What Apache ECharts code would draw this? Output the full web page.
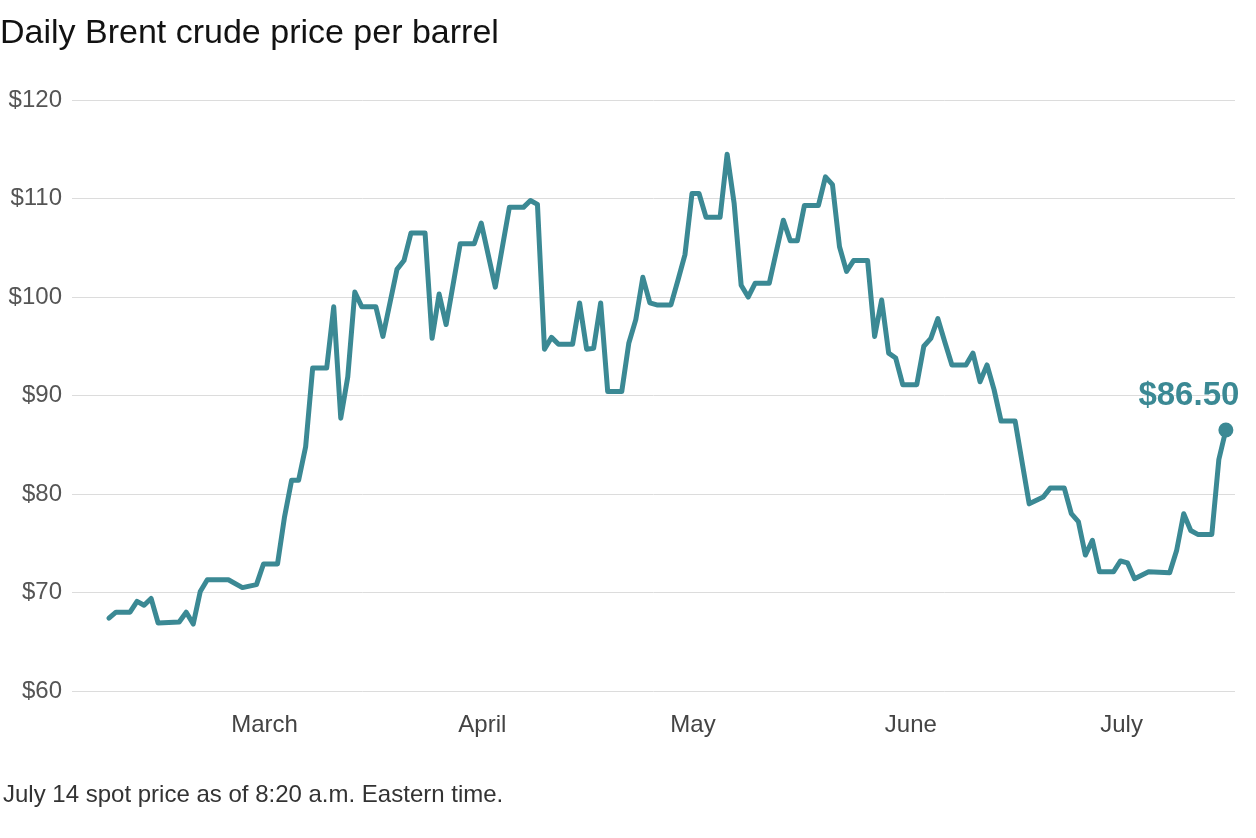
<!DOCTYPE html>
<html>
<head>
<meta charset="utf-8">
<title>Daily Brent crude price per barrel</title>
<script src="https://cdn.jsdelivr.net/npm/echarts@6/dist/echarts.min.js"></script>
<style>
  html, body { margin: 0; padding: 0; background: #fff; }
  #main { width: 1256px; height: 838px; }
</style>
</head>
<body>
<div id="main"></div>
<script>
// Brent spot, daily (weekend values carried from Friday)
const dates = [
  '2026-02-05', '2026-02-06', '2026-02-08', '2026-02-09', '2026-02-10', '2026-02-11', '2026-02-12',
  '2026-02-15', '2026-02-16', '2026-02-17', '2026-02-18', '2026-02-19', '2026-02-22', '2026-02-24',
  '2026-02-26', '2026-02-27', '2026-03-01', '2026-03-02', '2026-03-03', '2026-03-04', '2026-03-05',
  '2026-03-06', '2026-03-08', '2026-03-09', '2026-03-10', '2026-03-11', '2026-03-12', '2026-03-13',
  '2026-03-15', '2026-03-16', '2026-03-18', '2026-03-19', '2026-03-20', '2026-03-22', '2026-03-23',
  '2026-03-24', '2026-03-25', '2026-03-27', '2026-03-29', '2026-03-30', '2026-04-01', '2026-04-03',
  '2026-04-05', '2026-04-06', '2026-04-07', '2026-04-08', '2026-04-09', '2026-04-10', '2026-04-12',
  '2026-04-13', '2026-04-14', '2026-04-15', '2026-04-16', '2026-04-17', '2026-04-19', '2026-04-20',
  '2026-04-21', '2026-04-22', '2026-04-23', '2026-04-24', '2026-04-26', '2026-04-27', '2026-04-28',
  '2026-04-29', '2026-04-30', '2026-05-01', '2026-05-03', '2026-05-04', '2026-05-05', '2026-05-06',
  '2026-05-07', '2026-05-08', '2026-05-10', '2026-05-12', '2026-05-13', '2026-05-14', '2026-05-15',
  '2026-05-17', '2026-05-18', '2026-05-19', '2026-05-20', '2026-05-21', '2026-05-22', '2026-05-24',
  '2026-05-25', '2026-05-26', '2026-05-27', '2026-05-28', '2026-05-29', '2026-05-31', '2026-06-01',
  '2026-06-02', '2026-06-03', '2026-06-04', '2026-06-05', '2026-06-07', '2026-06-08', '2026-06-09',
  '2026-06-10', '2026-06-11', '2026-06-12', '2026-06-14', '2026-06-16', '2026-06-18', '2026-06-19',
  '2026-06-21', '2026-06-22', '2026-06-23', '2026-06-24', '2026-06-25', '2026-06-26', '2026-06-28',
  '2026-06-29', '2026-06-30', '2026-07-01', '2026-07-03', '2026-07-06', '2026-07-07', '2026-07-08',
  '2026-07-09', '2026-07-10', '2026-07-12', '2026-07-13', '2026-07-14'
];
const prices = [
  67.4, 68.0, 68.0, 69.1, 68.7, 69.4, 66.9,
  67.0, 68.0, 66.8, 70.1, 71.3, 71.3, 70.5,
  70.8, 72.9, 72.9, 77.7, 81.4, 81.4, 84.8,
  92.8, 92.8, 99.0, 87.7, 91.9, 100.5, 99.0,
  99.0, 96.0, 102.8, 103.7, 106.5, 106.5, 95.8,
  100.3, 97.2, 105.4, 105.4, 107.5, 101.0, 109.1,
  109.1, 109.8, 109.4, 94.7, 95.9, 95.2, 95.2,
  99.4, 94.7, 94.8, 99.4, 90.4, 90.4, 95.3,
  97.7, 102.0, 99.4, 99.2, 99.2, 101.7, 104.3,
  110.5, 110.5, 108.1, 108.1, 114.5, 109.5, 101.2,
  100.0, 101.4, 101.4, 107.8, 105.7, 105.7, 109.3,
  109.3, 112.2, 111.4, 105.1, 102.6, 103.7, 103.7,
  96.0, 99.7, 94.3, 93.8, 91.1, 91.1, 95.0,
  95.8, 97.8, 95.4, 93.1, 93.1, 94.3, 91.4,
  93.1, 90.6, 87.4, 87.4, 79.0, 79.7, 80.6,
  80.6, 78.0, 77.2, 73.8, 75.3, 72.1, 72.1,
  73.2, 73.0, 71.4, 72.1, 72.0, 74.3, 78.0,
  76.3, 75.9, 75.9, 83.5, 86.5
];
const monthLabels = ['', '', 'March', 'April', 'May', 'June', 'July'];
const yMin = 60, yMax = 120, yStep = 10;

const DAY = 864e5;
const toTime = s => Date.parse(s + 'T00:00:00Z');
const points = dates.map((d, i) => [toTime(d), prices[i]]);
const last = points[points.length - 1];
const t0 = points[0][0];
const teal = '#3b8994';

const chart = echarts.init(document.getElementById('main'));
chart.setOption({
  animation: false,
  useUTC: true,
  textStyle: { fontFamily: 'Liberation Sans, Arial, sans-serif' },
  title: [
    {
      text: 'Daily Brent crude price per barrel',
      left: 0, top: 17, padding: 0,
      textStyle: { fontSize: 34, fontWeight: 'normal', color: '#121212' }
    },
    {
      text: 'July 14 spot price as of 8:20 a.m. Eastern time.',
      left: 3, top: 783, padding: 0,
      textStyle: { fontSize: 24, fontWeight: 'normal', color: '#333' }
    }
  ],
  grid: { left: 72, right: 21, top: 100, bottom: 147 },
  xAxis: {
    type: 'time',
    min: t0 - 5.26 * DAY,
    max: t0 + 160.3 * DAY,
    axisLine: { show: false },
    axisTick: { show: false },
    splitLine: { show: false },
    axisLabel: {
      margin: 22,
      fontSize: 24,
      color: '#444',
      padding: [0, 26, 0, 0],
      formatter: function (v) {
        const d = new Date(v);
        if (d.getUTCDate() !== 1 || d.getUTCHours() !== 0) return '';
        return monthLabels[d.getUTCMonth()] || '';
      }
    }
  },
  yAxis: {
    type: 'value',
    min: yMin, max: yMax, interval: yStep,
    axisLine: { show: false },
    axisTick: { show: false },
    splitLine: { lineStyle: { color: '#dcdcdc', width: 1 } },
    axisLabel: { margin: 10, fontSize: 24, color: '#555', formatter: '${value}' }
  },
  series: [
    {
      type: 'line',
      data: points,
      showSymbol: false,
      symbol: 'none',
      lineStyle: { color: teal, width: 5, cap: 'round', join: 'round' },
      z: 2
    },
    {
      type: 'scatter',
      data: [last],
      symbolSize: 15,
      itemStyle: { color: teal, opacity: 1 },
      label: {
        show: true,
        position: 'top',
        distance: 5,
        offset: [-37, -5],
        fontSize: 33,
        fontWeight: 'bold',
        color: teal,
        opacity: 1,
        formatter: p => '$' + p.value[1].toFixed(2)
      },
      z: 3
    }
  ]
});
</script>
</body>
</html>
